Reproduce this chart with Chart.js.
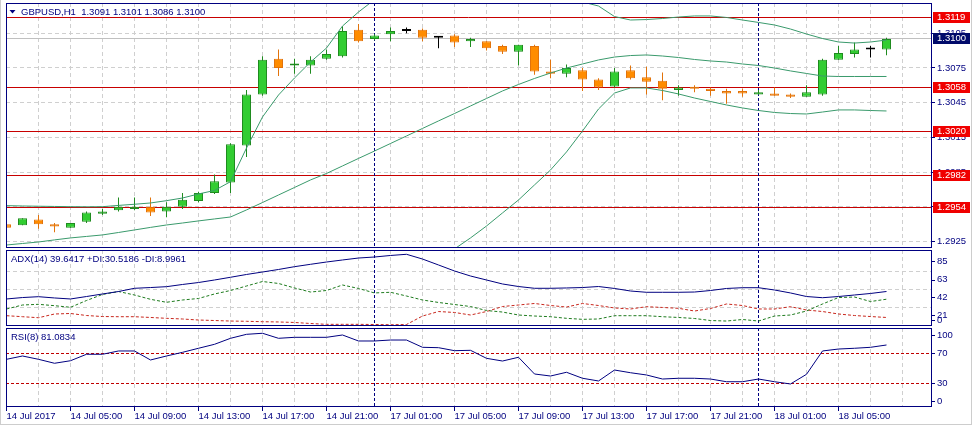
<!DOCTYPE html>
<html>
<head>
<meta charset="utf-8">
<title>GBPUSD,H1</title>
<script src="https://cdn.jsdelivr.net/npm/chart.js@4.4.1/dist/chart.umd.min.js"></script>
<style>
  html, body { margin: 0; padding: 0; background: #fff; }
  #wrap { position: relative; width: 979px; height: 429px; overflow: hidden; background: #fff; }
  #wrap canvas { position: absolute; left: 0; }
  #frame { position: absolute; left: 0; top: 0; width: 972px; height: 425px; box-sizing: border-box;
           border: 1px solid #cdcdcd; border-top: 0; pointer-events: none; }
</style>
</head>
<body>
<div id="wrap">
  <canvas id="priceChart" width="979" height="249" style="top:0"></canvas>
  <canvas id="adxChart" width="979" height="78" style="top:249px"></canvas>
  <canvas id="rsiChart" width="979" height="102" style="top:327px"></canvas>
  <div id="frame"></div>
</div>
<script>
"use strict";

// GBPUSD H1, 14 Jul 01:00 .. 18 Jul 08:00 (one entry per bar)
const opens = [1.2940,1.2939,1.2944,1.2940,1.2937,1.2942,1.2949,1.2952,1.2953,1.2955,
  1.2951,1.2955,1.2960,1.2967,1.2976,1.3008,1.3052,1.3083,1.3077,1.3077,
  1.3083,1.3085,1.3108,1.3100,1.3104,1.3107,1.3108,1.3101,1.3103,1.3098,
  1.3098,1.3094,1.3089,1.3094,1.3072,1.3070,1.3073,1.3065,1.3059,1.3073,
  1.3067,1.3064,1.3056,1.3058,1.3057,1.3055,1.3055,1.3052,1.3053,1.3052,
  1.3050,1.3052,1.3082,1.3087,1.3091,1.3091];
const highs = [1.2940,1.2945,1.2948,1.2941,1.2941,1.2951,1.2953,1.2963,1.2963,1.2963,
  1.2959,1.2967,1.2968,1.2983,1.3010,1.3056,1.3085,1.3091,1.3083,1.3085,
  1.3091,1.3111,1.3113,1.3104,1.3110,1.3110,1.3109,1.3102,1.3104,1.3101,
  1.3098,1.3095,1.3095,1.3095,1.3082,1.3078,1.3075,1.3066,1.3075,1.3077,
  1.3076,1.3071,1.3060,1.3060,1.3058,1.3057,1.3057,1.3056,1.3058,1.3053,
  1.3060,1.3083,1.3094,1.3097,1.3094,1.3101];
const lows = [1.2937,1.2939,1.2936,1.2933,1.2937,1.2941,1.2948,1.2951,1.2952,1.2947,
  1.2946,1.2953,1.2959,1.2966,1.2967,1.2998,1.3051,1.3068,1.3070,1.3070,
  1.3082,1.3084,1.3097,1.3099,1.3098,1.3105,1.3098,1.3092,1.3093,1.3093,
  1.3090,1.3087,1.3077,1.3069,1.3066,1.3067,1.3055,1.3056,1.3058,1.3065,
  1.3052,1.3047,1.3051,1.3054,1.3051,1.3044,1.3050,1.3052,1.3051,1.3049,
  1.3050,1.3051,1.3082,1.3084,1.3084,1.3086];
const closes = [1.2937,1.2945,1.2940,1.2938,1.2941,1.2950,1.2951,1.2955,1.2955,1.2950,
  1.2955,1.2961,1.2967,1.2977,1.3009,1.3052,1.3082,1.3075,1.3078,1.3082,
  1.3087,1.3107,1.3098,1.3103,1.3107,1.3107,1.3101,1.3101,1.3097,1.3100,
  1.3092,1.3089,1.3095,1.3072,1.3070,1.3075,1.3065,1.3058,1.3072,1.3066,
  1.3063,1.3057,1.3058,1.3057,1.3055,1.3053,1.3053,1.3054,1.3051,1.3050,
  1.3054,1.3082,1.3088,1.3091,1.3091,1.3100];

// Bollinger bands
const bbUpper = [1.29560,1.29557,1.29555,1.29553,1.29551,1.29550,1.29551,1.29562,1.29572,1.29583,
  1.29603,1.29626,1.29661,1.29691,1.29767,1.30058,1.30326,1.30516,1.30663,1.30801,
  1.30922,1.31112,1.31233,1.3134,1.3143,1.3149,1.3153,1.3155,1.3156,1.3155,
  1.3152,1.3148,1.3144,1.3140,1.3137,1.3134,1.3132,1.31285,1.31194,1.31164,
  1.31168,1.31177,1.31190,1.31199,1.31199,1.31186,1.31164,1.31143,1.31121,1.31086,
  1.31043,1.31004,1.30974,1.30965,1.30974,1.30991];
const bbMiddle = [1.29220,1.29233,1.29246,1.29264,1.29281,1.29294,1.29307,1.29328,1.29350,1.29372,
  1.29393,1.29410,1.29428,1.29445,1.29462,1.29523,1.29587,1.29652,1.29717,1.29782,
  1.29838,1.29903,1.29968,1.30032,1.30097,1.30162,1.30227,1.30292,1.30356,1.30421,
  1.30486,1.30551,1.30607,1.30659,1.30706,1.30749,1.30784,1.30819,1.30844,1.30857,
  1.30862,1.30853,1.30840,1.30823,1.30810,1.30801,1.30784,1.30771,1.30749,1.30724,
  1.30702,1.30680,1.30676,1.30676,1.30676,1.30676];
const bbLower = [1.2888,1.2891,1.2894,1.2898,1.2901,1.2904,1.2906,1.2908,1.2910,1.2912,
  1.2914,1.2915,1.2915,1.2914,1.2910,1.2899,1.2885,1.2879,1.2877,1.2876,
  1.2875,1.2869,1.2870,1.2872,1.2876,1.2883,1.2900,1.2910,1.29186,1.29281,
  1.29384,1.29497,1.29609,1.29739,1.29868,1.30024,1.30205,1.30395,1.30533,1.30577,
  1.30577,1.30555,1.30525,1.30490,1.30460,1.30430,1.30404,1.30382,1.30365,1.30356,
  1.30352,1.30369,1.30387,1.30387,1.30382,1.30378];

// ADX(14)
const adx = [30.8,32.5,33.5,32.0,30.8,33.7,36.7,39.6,43.4,44.3,
  45.3,47.9,50.2,53.2,56.4,59.7,62.6,65.6,68.9,71.7,
  74.4,76.8,79.1,80.3,82.1,83.5,77.9,70.9,63.8,57.9,
  53.2,48.5,45.5,43.4,43.4,43.8,44.3,45.5,43.2,40.2,
  38.7,38.7,38.7,39.0,40.8,43.2,44.1,44.1,41.4,37.9,
  33.7,32.3,33.7,35.5,37.3,39.64];
const plusDI = [19.0,23.7,24.5,22.9,21.0,29.0,36.1,39.6,35.5,30.4,
  26.9,29.6,31.4,36.7,40.8,46.1,51.4,49.1,43.8,39.0,
  40.8,47.3,43.2,37.9,38.7,34.3,29.6,26.7,24.3,21.9,
  17.2,15.4,11.9,10.7,9.9,8.0,6.8,7.2,11.1,11.1,
  11.1,9.9,9.0,7.8,5.4,4.8,6.6,4.8,10.7,11.9,
  16.6,24.9,32.5,33.1,27.8,30.52];
const minusDI = [11.1,9.9,8.7,13.1,13.7,11.3,10.1,9.9,9.9,9.0,
  8.0,7.2,6.0,5.4,4.8,4.5,4.0,3.7,3.1,1.9,
  0.9,0.9,0.9,0.7,0.4,0.7,10.7,16.0,14.9,11.9,
  16.0,21.9,23.7,25.5,23.1,21.3,25.5,23.1,20.2,19.0,
  21.7,20.8,19.8,16.6,19.6,24.9,23.1,19.0,19.0,21.7,
  17.8,16.0,13.1,11.3,10.1,9.0];

// RSI(8)
const rsi = [62.0,66.4,62.0,56.7,60.1,68.7,68.7,73.1,73.1,61.1,
  66.4,71.3,76.7,82.0,90.0,95.3,96.7,90.0,91.3,91.3,
  91.3,94.4,86.4,86.4,87.7,87.7,78.0,77.5,73.5,74.0,
  63.3,59.7,64.7,42.4,39.7,44.7,36.7,33.1,47.7,44.1,
  41.1,35.7,36.7,36.7,35.7,32.1,32.1,35.7,32.1,29.1,
  42.0,73.1,75.7,76.7,78.0,81.08];

// labels / levels
const xLabelIdx = [0,4,8,12,16,20,24,28,32,36,40,44,48,52];
const xLabelTxt = ['14 Jul 2017','14 Jul 05:00','14 Jul 09:00','14 Jul 13:00','14 Jul 17:00','14 Jul 21:00',
  '17 Jul 01:00','17 Jul 05:00','17 Jul 09:00','17 Jul 13:00','17 Jul 17:00','17 Jul 21:00',
  '18 Jul 01:00','18 Jul 05:00'];
const separators = [23, 47];
const levels = [1.3119, 1.3058, 1.3020, 1.2982, 1.2954];
const bid = 1.3100;
const priceTicks = [1.3105, 1.3075, 1.3045, 1.3015, 1.2985, 1.2955, 1.2925];
const adxTicks = [85, 63, 42, 21, 0];
const adxGrid = [63, 42, 21];
const rsiTicks = [100, 70, 30, 0];
const rsiLevels = [70, 30];

const NAVY = '#000080';
const GRID = '#cfcfcf';
const LEVEL = '#c80000';
const FAMILY = '"Liberation Sans", Arial, sans-serif';
const FSIZE = 9.5;
const X_MIN = -1 / 32;
const X_MAX = X_MIN + 925 / 16;
const gridIdx = [];
for (let i = 0; i <= 56; i += 2) gridIdx.push(i);

Chart.defaults.font.family = FAMILY;

const candleFill = closes.map((c, i) => c > opens[i] ? '#32cd32' : c < opens[i] ? '#ff8c00' : '#000000');
const candleLine = closes.map((c, i) => c > opens[i] ? '#1f8b1f' : c < opens[i] ? '#e2730b' : '#000000');

const pts = arr => arr.map((v, i) => ({ x: i, y: v }));

// MT4 style window decorations; settings kept in the closure
function mtPanel(cfg) {
  return {
    id: 'mtPanel',
    beforeDatasetsDraw(chart) {
      const { ctx, chartArea: a, scales: { x, y } } = chart;
      ctx.save();
      ctx.beginPath();
      ctx.rect(a.left, a.top, a.right - a.left, a.bottom - a.top);
      ctx.clip();
      ctx.lineWidth = 1;
      (cfg.hlines || []).forEach(h => {
        const py = Math.floor(y.getPixelForValue(h.value)) + 0.5;
        ctx.strokeStyle = h.color;
        ctx.setLineDash(h.dash || []);
        ctx.beginPath(); ctx.moveTo(a.left, py); ctx.lineTo(a.right, py); ctx.stroke();
      });
      ctx.strokeStyle = NAVY;
      ctx.setLineDash([3, 2]);
      separators.forEach(s => {
        const px = Math.floor(x.getPixelForValue(s)) + 0.5;
        ctx.beginPath(); ctx.moveTo(px, a.top); ctx.lineTo(px, a.bottom); ctx.stroke();
      });
      ctx.restore();
    },
    afterDraw(chart) {
      const { ctx, chartArea: a, scales: { y } } = chart;
      ctx.save();
      ctx.strokeStyle = NAVY;
      ctx.lineWidth = 1;
      ctx.setLineDash([]);
      ctx.strokeRect(a.left + 0.5, a.top + 0.5, a.right - a.left, a.bottom - a.top - 1);
      ctx.font = FSIZE + 'px ' + FAMILY;
      ctx.textBaseline = 'middle';
      ctx.textAlign = 'left';
      if (cfg.side) {
        cfg.side.values.forEach(v => {
          const p = y.getPixelForValue(v) + cfg.side.offset;
          const py = Math.min(Math.max(p, a.top + 7), a.bottom - 6);
          ctx.fillStyle = NAVY;
          ctx.fillText(String(v), a.right + 6, py);
          ctx.fillRect(a.right + 1, Math.round(py), 3, 1);
        });
      }
      (cfg.boxes || []).forEach(b => {
        const row = Math.floor(y.getPixelForValue(b.value));
        ctx.fillStyle = b.color;
        ctx.fillRect(a.right + 2, row - 5, 37, 11);
        ctx.fillStyle = '#ffffff';
        ctx.fillText(b.value.toFixed(4), a.right + 6, row + 0.5);
      });
      ctx.fillStyle = NAVY;
      let tx = a.left + 5;
      if (cfg.arrow) {
        ctx.beginPath();
        ctx.moveTo(a.left + 3.5, a.top + 7);
        ctx.lineTo(a.left + 9.5, a.top + 7);
        ctx.lineTo(a.left + 6.5, a.top + 10.5);
        ctx.closePath();
        ctx.fill();
        tx = a.left + 15;
      }
      ctx.fillText(cfg.header, tx, a.top + 9);
      ctx.restore();
    }
  };
}

function xAxis(withLabels) {
  return {
    type: 'linear', min: X_MIN, max: X_MAX, offset: false,
    afterBuildTicks: s => { s.ticks = gridIdx.map(v => ({ value: v })); },
    afterFit: s => { s.height = withLabels ? 22 : 0; s.paddingLeft = 0; s.paddingRight = 0; },
    border: { display: false, dash: [4, 3] },
    grid: {
      offset: false, color: GRID, drawTicks: withLabels, tickLength: 4,
      tickColor: c => (c.tick && xLabelIdx.includes(c.tick.value)) ? NAVY : 'rgba(0,0,0,0)'
    },
    ticks: {
      display: withLabels, autoSkip: false, maxRotation: 0, minRotation: 0, align: 'start', padding: 0,
      color: NAVY, font: { family: FAMILY, size: FSIZE },
      callback: v => { const i = xLabelIdx.indexOf(v); return i < 0 ? '' : xLabelTxt[i]; }
    }
  };
}

function yAxis(min, max, ticks, showLabels, showGrid) {
  return {
    type: 'linear', position: 'right', min: min, max: max, beginAtZero: false,
    afterBuildTicks: s => { s.ticks = ticks.map(v => ({ value: v })); },
    afterFit: s => { s.width = 48; s.paddingTop = 0; s.paddingBottom = 0; },
    border: { display: false, dash: [4, 3] },
    grid: { display: showGrid, color: GRID, drawTicks: showLabels, tickLength: 4, tickColor: NAVY },
    ticks: {
      display: showLabels, autoSkip: false, padding: 2, color: NAVY,
      font: { family: FAMILY, size: FSIZE },
      callback: v => v.toFixed(4)
    }
  };
}

function opts(padding, x, y) {
  return {
    responsive: false, animation: false, events: [],
    layout: { padding: padding },
    plugins: { legend: { display: false }, tooltip: { enabled: false } },
    scales: { x: x, y: y }
  };
}

const line = (data, color, dash) => ({
  type: 'line', data: pts(data), borderColor: color, borderWidth: 1, borderDash: dash || [],
  pointRadius: 0, tension: 0, fill: false, order: 0
});

// price window
new Chart(document.getElementById('priceChart'), {
  type: 'bar',
  data: {
    datasets: [
      line(bbUpper, '#3a9a6c'),
      line(bbMiddle, '#3a9a6c'),
      line(bbLower, '#3a9a6c'),
      {
        type: 'bar', data: lows.map((l, i) => ({ x: i, y: [l, highs[i]] })),
        backgroundColor: candleLine, borderWidth: 0, barThickness: 1, grouped: false,
        inflateAmount: 0, order: 2
      },
      {
        type: 'bar', data: opens.map((op, i) => ({ x: i, y: [op, closes[i]] })),
        backgroundColor: candleFill, borderColor: candleLine, borderWidth: 1, borderSkipped: false,
        barThickness: 9, grouped: false, inflateAmount: 0, minBarLength: 2, order: 1
      }
    ]
  },
  options: opts({ left: 6, top: 3, right: 0, bottom: 1 }, xAxis(false),
    yAxis(1.29194, 1.31311, priceTicks, true, true)),
  plugins: [mtPanel({
    header: 'GBPUSD,H1  1.3091 1.3101 1.3086 1.3100', arrow: true,
    hlines: [{ value: bid, color: '#c0c0c0' }].concat(levels.map(v => ({ value: v, color: LEVEL }))),
    boxes: levels.map(v => ({ value: v, color: '#f00000' })).concat([{ value: bid, color: '#000a6a' }])
  })]
});

// ADX window
new Chart(document.getElementById('adxChart'), {
  type: 'line',
  data: {
    datasets: [
      line(adx, NAVY),
      line(plusDI, '#1e7b1e', [3, 2]),
      line(minusDI, '#c8281e', [3, 2])
    ]
  },
  options: opts({ left: 6, top: 1, right: 0, bottom: 1 }, xAxis(false),
    yAxis(-1.06, 88.56, adxGrid, false, true)),
  plugins: [mtPanel({
    header: 'ADX(14) 39.6417 +DI:30.5186 -DI:8.9961',
    side: { values: adxTicks, offset: 8 }
  })]
});

// RSI window
new Chart(document.getElementById('rsiChart'), {
  type: 'line',
  data: { datasets: [line(rsi, NAVY)] },
  options: opts({ left: 6, top: 1, right: 0, bottom: 0 }, xAxis(true),
    yAxis(-1.6, 103.73, rsiTicks, false, false)),
  plugins: [mtPanel({
    header: 'RSI(8) 81.0834',
    hlines: rsiLevels.map(v => ({ value: v, color: '#c00000', dash: [3, 2] })),
    side: { values: rsiTicks, offset: 0 }
  })]
});
</script>
</body>
</html>
